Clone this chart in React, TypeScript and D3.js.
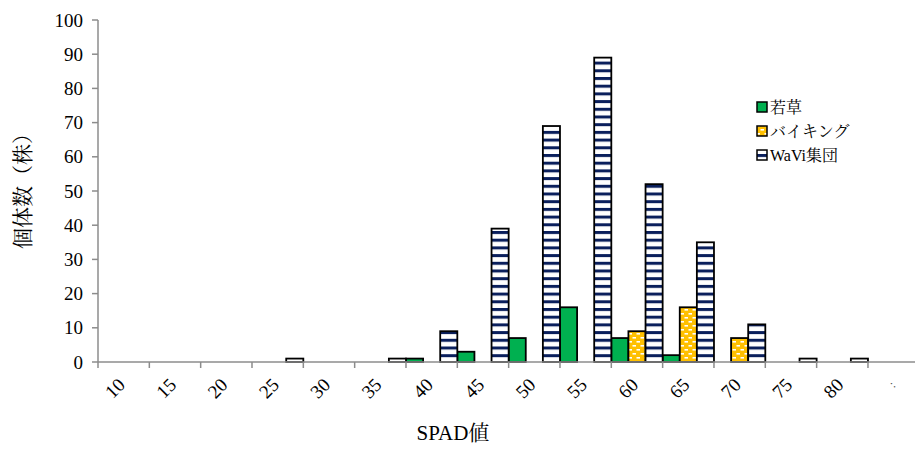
import React from 'react';
import * as d3 from 'd3';

// SPAD value classes (the last class label is clipped at the right edge)
const categories = ['10', '15', '20', '25', '30', '35', '40', '45', '50', '55', '60', '65', '70', '75', '80', ':'];
// Plant counts per class for each group
const wakakusa = [0, 0, 0, 0, 0, 0, 1, 3, 7, 16, 7, 2, 0, 0, 0, 0];
const viking = [0, 0, 0, 0, 0, 0, 0, 0, 0, 0, 9, 16, 7, 0, 0, 0];
const wavi = [0, 0, 0, 1, 0, 1, 9, 39, 69, 89, 52, 35, 11, 1, 1, 0];

const seriesNames = ['若草', 'バイキング', 'WaVi集団'];
const yTicks = [0, 10, 20, 30, 40, 50, 60, 70, 80, 90, 100];

const W = 915;
const H = 451;
const left = 98;
const right = 919.3;
const top = 20;
const bottom = 362;

const serifStyle = {
  fontFamily:
    '"Liberation Serif", Tinos, "Times New Roman", Times, "DejaVu Serif", "Noto Serif", FreeSerif, "Noto Serif CJK JP", "Noto Sans CJK JP", serif',
};

export default function App() {
  const x = d3.scaleBand<string>().domain(categories).range([left, right]).padding(0);
  const inner = d3.scaleBand<string>().domain(seriesNames).range([0, x.bandwidth()]).padding(0);
  const y = d3.scaleLinear().domain([0, 100]).range([bottom, top]);

  const series = [
    { name: seriesNames[0], values: wakakusa, fill: '#00B050' },
    { name: seriesNames[1], values: viking, fill: 'url(#dots)' },
    { name: seriesNames[2], values: wavi, fill: 'url(#stripes)' },
  ];

  const axisColor = '#8c8c8c';

  return (
    <svg width={W} height={H} style={{ position: 'absolute', left: 0, top: 0, background: '#fff' }}>
      <defs>
        <pattern id="stripes" patternUnits="userSpaceOnUse" width={8} height={7.7}>
          <rect width={8} height={7.7} fill="#fff" />
          <rect y={0} width={8} height={3} fill="#0a1f5c" />
        </pattern>
        <pattern id="dots" patternUnits="userSpaceOnUse" width={8} height={8}>
          <rect width={8} height={8} fill="#FFC000" />
          <rect x={0.5} y={1} width={3.5} height={1.6} fill="#fff" />
          <rect x={4.5} y={5} width={3.5} height={1.6} fill="#fff" />
        </pattern>
      </defs>

      {/* bars */}
      {series.map((s) =>
        s.values.map((v, i) =>
          v > 0 ? (
            <rect
              key={s.name + i}
              x={(x(categories[i]) as number) + (inner(s.name) as number)}
              y={y(v)}
              width={inner.bandwidth()}
              height={y(0) - y(v)}
              fill={s.fill}
              stroke="#000"
              strokeWidth={1.8}
            />
          ) : null
        )
      )}

      {/* y axis */}
      <line x1={left} x2={left} y1={y(100)} y2={y(0)} stroke={axisColor} strokeWidth={1.5} />
      {yTicks.map((t) => (
        <g key={t}>
          <line x1={left - 6} x2={left} y1={y(t)} y2={y(t)} stroke={axisColor} strokeWidth={1.5} />
          <text x={83} y={y(t)} dy="0.35em" textAnchor="end" style={serifStyle} fontSize={19} fill="#000">
            {t}
          </text>
        </g>
      ))}

      {/* x axis */}
      <line x1={left} x2={right} y1={y(0)} y2={y(0)} stroke={axisColor} strokeWidth={1.5} />
      {categories.map((c) => (
        <line
          key={'t' + c}
          x1={x(c) as number}
          x2={x(c) as number}
          y1={y(0)}
          y2={y(0) + 6}
          stroke={axisColor}
          strokeWidth={1.5}
        />
      ))}
      {categories.map((c, i) => {
        const cx = (x(c) as number) + x.bandwidth() / 2 + 2.5;
        const last = i === categories.length - 1;
        return (
          <text
            key={'l' + c}
            transform={`translate(${cx},386) rotate(-45)`}
            textAnchor="end"
            style={serifStyle}
            fontSize={last ? 12 : 19}
            fill={last ? '#555' : '#000'}
          >
            {c}
          </text>
        );
      })}

      {/* axis titles */}
      <text
        transform={`translate(30,186) rotate(-90)`}
        textAnchor="middle"
        style={serifStyle}
        fontSize={21}
        fill="#000"
      >
        個体数（株）
      </text>
      <text x={453} y={440} textAnchor="middle" style={serifStyle} fontSize={21} fill="#000">
        SPAD値
      </text>

      {/* legend */}
      {series.map((s, i) => {
        const cy = 107 + i * 24;
        return (
          <g key={'lg' + s.name}>
            <rect x={757} y={cy - 5} width={10} height={10} fill={s.fill} stroke="#000" strokeWidth={1.5} />
            <text x={770} y={cy} dy="0.35em" style={serifStyle} fontSize={16} fill="#000">
              {s.name}
            </text>
          </g>
        );
      })}
    </svg>
  );
}
